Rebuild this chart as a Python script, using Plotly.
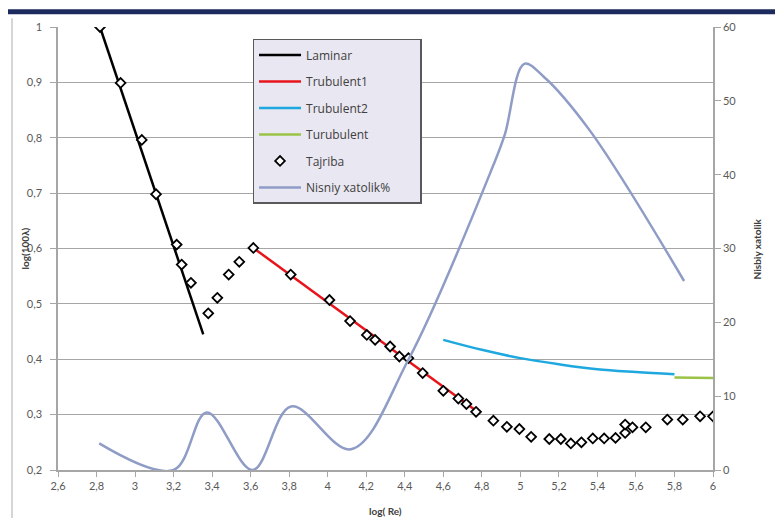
import plotly.graph_objects as go

# ---- data ----
lam_x = [2.818, 3.354]
lam_y = [1.0, 0.445]

t1_x = [3.614, 4.79]
t1_y = [0.601, 0.302]

t2_x = [4.6, 4.8, 5.0, 5.2, 5.4, 5.6, 5.8]
t2_y = [0.435, 0.417, 0.402, 0.391, 0.382, 0.377, 0.373]

t3_x = [5.8, 6.0]
t3_y = [0.367, 0.366]

exp_x = [2.818, 2.925, 3.035, 3.109, 3.216, 3.242, 3.29, 3.38, 3.427, 3.486, 3.541,
         3.614, 3.808, 4.009, 4.116, 4.203, 4.246, 4.324, 4.372, 4.419, 4.493, 4.60,
         4.678, 4.72, 4.77, 4.86, 4.93, 4.995, 5.056, 5.15, 5.21, 5.262, 5.317, 5.376,
         5.435, 5.494, 5.544, 5.544, 5.582, 5.651, 5.763, 5.843, 5.933, 6.0]
exp_y = [1.0, 0.899, 0.796, 0.698, 0.607, 0.571, 0.538, 0.483, 0.511, 0.553, 0.576,
         0.601, 0.553, 0.507, 0.469, 0.444, 0.435, 0.423, 0.405, 0.402, 0.375, 0.343,
         0.329, 0.319, 0.305, 0.289, 0.278, 0.274, 0.260, 0.256, 0.256, 0.248, 0.250, 0.257,
         0.257, 0.258, 0.267, 0.282, 0.277, 0.277, 0.291, 0.291, 0.297, 0.297]

err_x = [2.814, 3.2, 3.372, 3.61, 3.81, 4.12, 4.42, 4.86, 4.92, 5.02, 5.12, 5.36, 5.85]
err_y = [3.6, 0.0, 7.8, 0.0, 8.6, 2.8, 15.0, 41.3, 45.5, 55.0, 53.3, 46.0, 25.6]

x_ticks = [2.6, 2.8, 3.0, 3.2, 3.4, 3.6, 3.8, 4.0, 4.2, 4.4, 4.6, 4.8, 5.0, 5.2, 5.4, 5.6, 5.8, 6.0]
x_ticktext = ["2,6", "2,8", "3", "3,2", "3,4", "3,6", "3,8", "4", "4,2", "4,4", "4,6",
              "4,8", "5", "5,2", "5,4", "5,6", "5,8", "6"]
y_ticks = [0.2, 0.3, 0.4, 0.5, 0.6, 0.7, 0.8, 0.9, 1.0]
y_ticktext = ["0,2", "0,3", "0,4", "0,5", "0,6", "0,7", "0,8", "0,9", "1"]
y2_ticks = [0, 10, 20, 30, 40, 50, 60]

FONT = "Lato, 'Liberation Sans', sans-serif"
LFONT = "'Open Sans', Lato, sans-serif"
AX = "#a6a6a6"

fig = go.Figure()
fig.add_trace(go.Scatter(x=lam_x, y=lam_y, mode="lines", name="Laminar",
                         line=dict(color="#000000", width=2.5), legendgroup="a"))
fig.add_trace(go.Scatter(x=t1_x, y=t1_y, mode="lines", name="Trubulent1",
                         line=dict(color="#e8141c", width=2.5), legendgroup="b"))
fig.add_trace(go.Scatter(x=t2_x, y=t2_y, mode="lines", name="Trubulent2", line_shape="spline",
                         line=dict(color="#1ea8df", width=2.5), legendgroup="c"))
fig.add_trace(go.Scatter(x=t3_x, y=t3_y, mode="lines", name="Turubulent",
                         line=dict(color="#9ac346", width=2.5), legendgroup="d"))
fig.add_trace(go.Scatter(x=exp_x, y=exp_y, mode="markers", name="Tajriba",
                         marker=dict(symbol="diamond", size=7.5, color="white",
                                     line=dict(color="#000000", width=1.8)), legendgroup="e"))
fig.add_trace(go.Scatter(x=err_x, y=err_y, mode="lines",
                         name="Nisniy xatolik%" + "\u00a0" * 8, yaxis="y2",
                         line=dict(color="#8f9cc6", width=2.5, shape="spline", smoothing=1.0),
                         legendgroup="f"))

fig.update_layout(
    width=775, height=510,
    margin=dict(l=50, r=70, t=17, b=48),
    paper_bgcolor="white", plot_bgcolor="white",
    font=dict(family=FONT, size=11, color="#595959"),
    showlegend=True,
    legend=dict(x=0.297, y=0.973, xanchor="left", yanchor="top",
                bgcolor="#e9e7f1", bordercolor="#595959", borderwidth=1.5,
                font=dict(family=LFONT, size=12, color="#404040"),
                tracegroupgap=7.5, itemwidth=42, traceorder="grouped"),
    xaxis=dict(range=[2.6, 6.0], tickvals=x_ticks, ticktext=x_ticktext,
               showgrid=False, zeroline=False, showline=True, linecolor=AX, linewidth=1.5,
               ticks="outside", ticklen=5, tickcolor=AX, tickfont=dict(size=11, color="#595959")),
    yaxis=dict(range=[0.2, 1.0], tickvals=y_ticks, ticktext=y_ticktext,
               showgrid=True, gridcolor=AX, gridwidth=1.2, zeroline=False,
               showline=True, linecolor=AX, linewidth=1.5, ticklabelstandoff=6,
               ticks="outside", ticklen=6, tickcolor=AX, tickfont=dict(size=11, color="#595959")),
    yaxis2=dict(range=[0, 60], tickvals=y2_ticks, overlaying="y", side="right",
                showgrid=False, zeroline=False, showline=True, linecolor=AX, linewidth=1.5,
                ticks="outside", ticklen=6, tickcolor=AX, tickfont=dict(size=11, color="#595959")),
    annotations=[
        dict(text="<b>log(100λ)</b>", xref="paper", yref="paper", x=-0.0504, y=0.5,
             xanchor="center", yanchor="middle",
             textangle=-90, showarrow=False, font=dict(size=10, color="#404040")),
        dict(text="<b>Nisbiy xatolik</b>", xref="paper", yref="paper", x=1.067, y=0.5,
             xanchor="center", yanchor="middle",
             textangle=-90, showarrow=False, font=dict(size=10, color="#404040")),
        dict(text="<b>log( Re)</b>", xref="paper", yref="paper", x=0.5, y=-0.092,
             xanchor="center", yanchor="middle",
             showarrow=False, font=dict(size=10, color="#404040")),
    ],
    shapes=[
        dict(type="rect", xref="paper", yref="paper", x0=-0.08, x1=1.11, y0=1.029, y1=1.04,
             fillcolor="#1c2a5e", line=dict(width=0), layer="above"),
        dict(type="line", xref="paper", yref="paper", x0=-0.0702, x1=-0.0702, y0=1.02, y1=-0.12,
             line=dict(color="#c8c8c8", width=1.5)),
    ],
)

fig.write_html("out.html")
